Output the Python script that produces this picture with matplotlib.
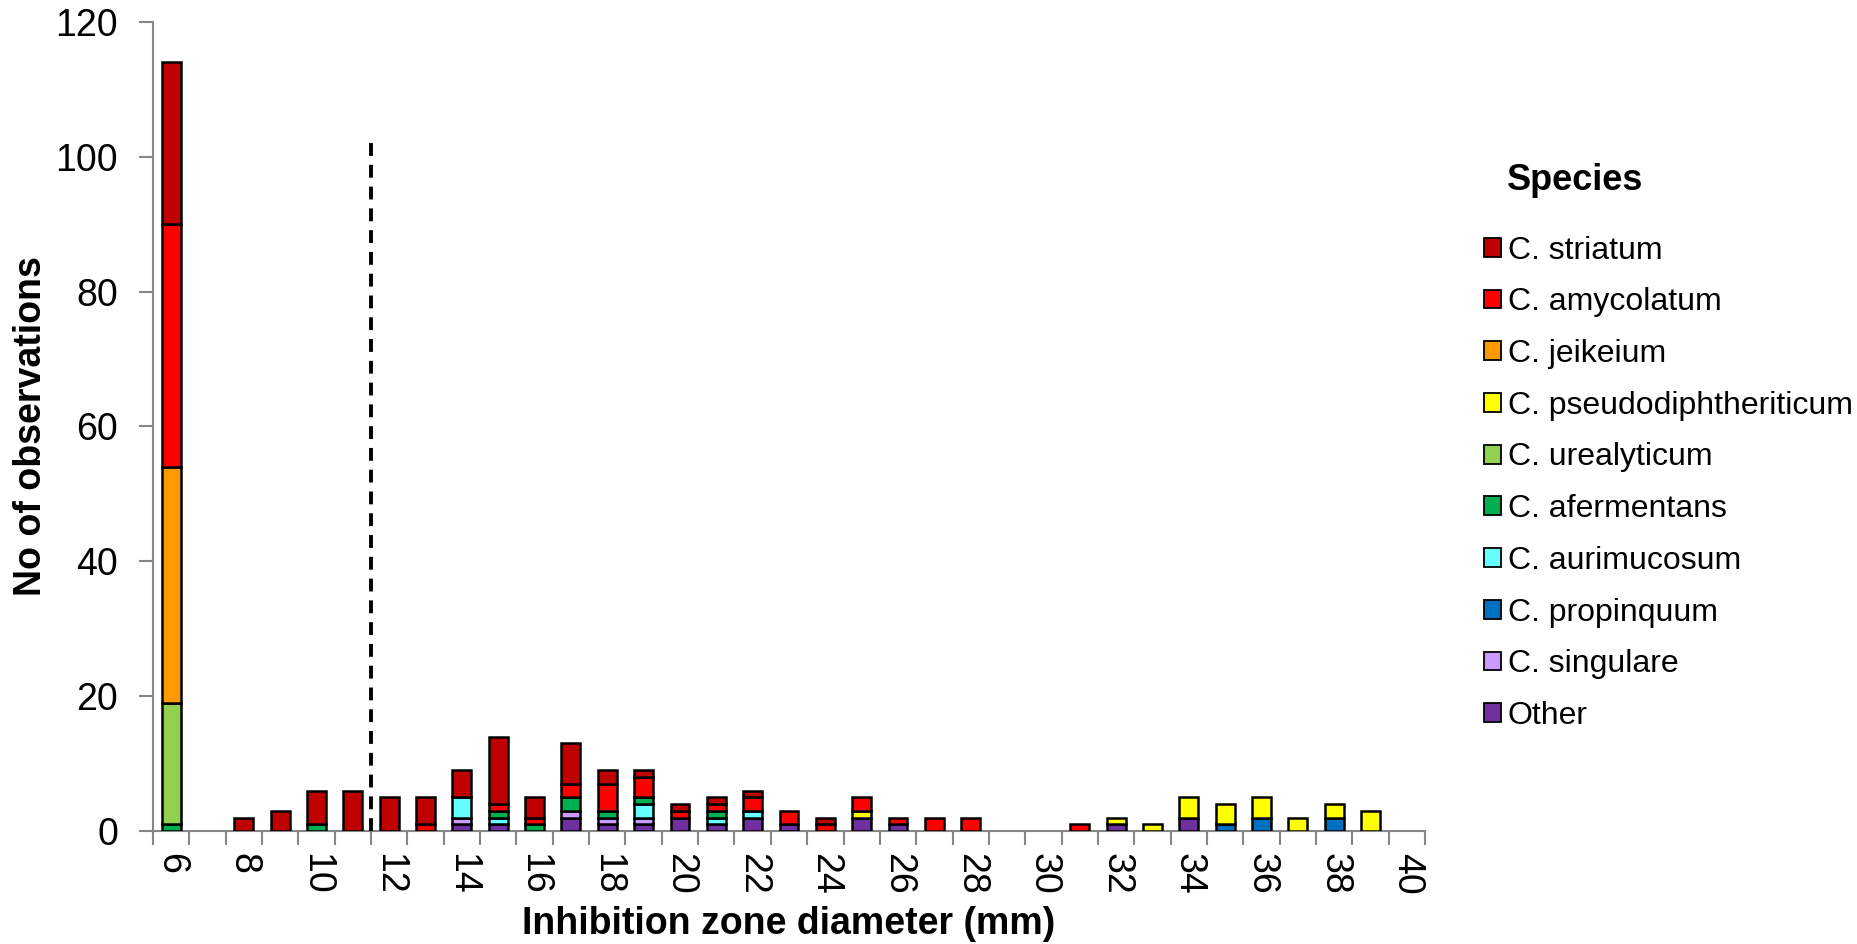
import numpy as np
import matplotlib
matplotlib.use("Agg")
import matplotlib.pyplot as plt
from matplotlib.patches import Patch

plt.rcParams['font.family'] = ['Liberation Sans', 'DejaVu Sans']

# inhibition zone diameter categories (mm)
diameters = list(range(6, 41))

# counts per species, one value per diameter 6..40
other = [0, 0, 0, 0, 0, 0, 0, 0, 1, 1, 0, 2, 1, 1, 2, 1, 2, 1, 0, 2, 1, 0, 0, 0, 0, 0, 1, 0, 2, 0, 0, 0, 0, 0, 0]
singulare = [0, 0, 0, 0, 0, 0, 0, 0, 1, 0, 0, 1, 1, 1, 0, 0, 0, 0, 0, 0, 0, 0, 0, 0, 0, 0, 0, 0, 0, 0, 0, 0, 0, 0, 0]
propinquum = [0, 0, 0, 0, 0, 0, 0, 0, 0, 0, 0, 0, 0, 0, 0, 0, 0, 0, 0, 0, 0, 0, 0, 0, 0, 0, 0, 0, 0, 1, 2, 0, 2, 0, 0]
aurimucosum = [0, 0, 0, 0, 0, 0, 0, 0, 3, 1, 0, 0, 0, 2, 0, 1, 1, 0, 0, 0, 0, 0, 0, 0, 0, 0, 0, 0, 0, 0, 0, 0, 0, 0, 0]
afermentans = [1, 0, 0, 0, 1, 0, 0, 0, 0, 1, 1, 2, 1, 1, 0, 1, 0, 0, 0, 0, 0, 0, 0, 0, 0, 0, 0, 0, 0, 0, 0, 0, 0, 0, 0]
urealyticum = [18, 0, 0, 0, 0, 0, 0, 0, 0, 0, 0, 0, 0, 0, 0, 0, 0, 0, 0, 0, 0, 0, 0, 0, 0, 0, 0, 0, 0, 0, 0, 0, 0, 0, 0]
pseudodiph = [0, 0, 0, 0, 0, 0, 0, 0, 0, 0, 0, 0, 0, 0, 0, 0, 0, 0, 0, 1, 0, 0, 0, 0, 0, 0, 1, 1, 3, 3, 3, 2, 2, 3, 0]
jeikeium = [35, 0, 0, 0, 0, 0, 0, 0, 0, 0, 0, 0, 0, 0, 0, 0, 0, 0, 0, 0, 0, 0, 0, 0, 0, 0, 0, 0, 0, 0, 0, 0, 0, 0, 0]
amycolatum = [36, 0, 0, 0, 0, 0, 0, 1, 0, 1, 1, 2, 4, 3, 1, 1, 2, 2, 1, 2, 1, 2, 2, 0, 0, 1, 0, 0, 0, 0, 0, 0, 0, 0, 0]
striatum = [24, 0, 2, 3, 5, 6, 5, 4, 4, 10, 3, 6, 2, 1, 1, 1, 1, 0, 1, 0, 0, 0, 0, 0, 0, 0, 0, 0, 0, 0, 0, 0, 0, 0, 0]

# stacked bottom -> top, legend lists top -> bottom
series = [
    ("Other", other, "#7030A0"),
    ("C. singulare", singulare, "#CC99FF"),
    ("C. propinquum", propinquum, "#0070C0"),
    ("C. aurimucosum", aurimucosum, "#66FFFF"),
    ("C. afermentans", afermentans, "#00B050"),
    ("C. urealyticum", urealyticum, "#92D050"),
    ("C. pseudodiphtheriticum", pseudodiph, "#FFFF00"),
    ("C. jeikeium", jeikeium, "#FF9900"),
    ("C. amycolatum", amycolatum, "#FF0000"),
    ("C. striatum", striatum, "#C00000"),
]

breakpoint_mm = 11.5
breakpoint_height = 102

fig = plt.figure(figsize=(18.58, 9.44), dpi=100)
ax = fig.add_axes([0.0823, 0.1197, 0.6847, 0.857])

x = np.arange(len(diameters))
bottom = np.zeros(len(diameters))
for name, vals, color in series:
    vals = np.array(vals, dtype=float)
    mask = vals > 0
    ax.bar(x[mask], vals[mask], width=0.52, bottom=bottom[mask], color=color,
           edgecolor="black", linewidth=1.8, zorder=3)
    bottom += vals

# breakpoint line between 11 and 12 mm
bp_x = np.interp(breakpoint_mm, diameters, x)
ax.plot([bp_x, bp_x], [0, breakpoint_height], color="black", lw=2.8,
        dashes=(3.3, 2.3), zorder=4)

ax.set_xlim(-0.5, len(diameters) - 0.5)
ax.set_ylim(0, 120)
ax.set_yticks(range(0, 121, 20))
ax.tick_params(axis="y", labelsize=27, length=10, width=1.5, color="#868686", pad=15)

label_pos = [i for i, d in enumerate(diameters) if d % 2 == 0]
ax.set_xticks(label_pos)
ax.set_xticklabels([str(diameters[i]) for i in label_pos], rotation=270)
ax.tick_params(axis="x", which="major", labelsize=27, length=0, pad=16)
ax.set_xticks(np.arange(-0.5, len(diameters)), minor=True)
ax.tick_params(axis="x", which="minor", length=10, width=1.5, color="#868686")

for side in ["top", "right"]:
    ax.spines[side].set_visible(False)
for side in ["left", "bottom"]:
    ax.spines[side].set_color("#868686")
    ax.spines[side].set_linewidth(1.5)

ax.set_xlabel("Inhibition zone diameter (mm)", fontsize=27, fontweight="bold", labelpad=8)
ax.set_ylabel("No of observations", fontsize=27, fontweight="bold", labelpad=5)

handles = [Patch(facecolor=c, edgecolor="black", linewidth=1.3, label=n)
           for n, _, c in reversed(series)]
fig.legend(handles=handles, loc="upper left", bbox_to_anchor=(0.7916, 0.764),
           frameon=False, fontsize=23, handlelength=0.53, handleheight=0.53,
           handletextpad=0.22, labelspacing=0.68, borderaxespad=0)
fig.text(0.811, 0.809, "Species", fontsize=26, fontweight="bold", va="center")

fig.savefig("out.png", dpi=100)
